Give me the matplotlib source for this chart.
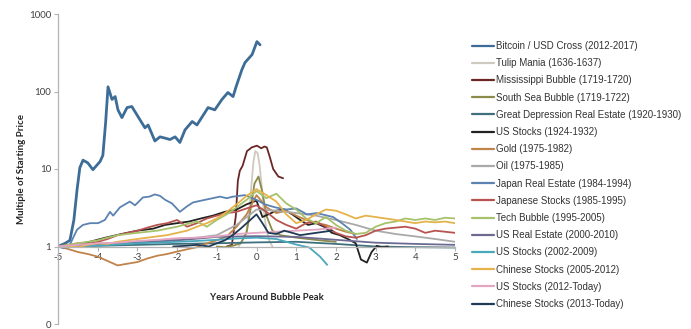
import numpy as np
import matplotlib
matplotlib.use("Agg")
import matplotlib.pyplot as plt

plt.rcParams["font.family"] = ["Lato", "DejaVu Sans"]

# ---- data: multiple of starting price vs. years around the bubble peak ----
btc_x = [-5.0, -4.82, -4.70, -4.60, -4.52, -4.45, -4.37, -4.25, -4.12, -3.94, -3.87, -3.80, -3.74,
         -3.64, -3.56, -3.49, -3.39, -3.26, -3.14, -2.98, -2.81, -2.73, -2.56, -2.43, -2.30, -2.18,
         -2.05, -1.93, -1.80, -1.62, -1.50, -1.37, -1.22, -1.05, -0.87, -0.72, -0.59, -0.52, -0.37,
         -0.29, -0.11, 0.01, 0.09]
btc_v = [1.0, 1.1, 1.2, 2.2, 5.4, 10.4, 13, 12, 9.8, 12.5, 15, 40, 115, 79, 86, 58, 46, 62, 64, 47,
         34, 37, 23, 26, 25, 24, 26, 22, 32, 41, 37, 47, 62, 58, 79, 97, 86, 113, 190, 236, 300, 440, 400]

tulip_x = [-0.45, -0.35, -0.25, -0.18, -0.13, -0.08, -0.03, 0.03, 0.08, 0.13, 0.18, 0.25, 0.32, 0.40]
tulip_v = [1.0, 1.2, 1.6, 3.0, 6.0, 12.0, 17.0, 16.0, 11.0, 6.0, 3.0, 1.6, 1.2, 1.0]

miss_x = [-0.75, -0.62, -0.52, -0.47, -0.42, -0.35, -0.24, -0.12, 0.01, 0.12, 0.20, 0.26, 0.34, 0.42, 0.55, 0.67]
miss_v = [1.0, 1.05, 2.5, 7.0, 9.5, 11.0, 17.0, 19.0, 20.0, 18.5, 19.5, 19.0, 14.0, 10.0, 8.0, 7.6]

ssea_x = [-1.0, -0.8, -0.6, -0.4, -0.25, -0.15, -0.05, 0.05, 0.15, 0.25, 0.4, 0.6, 0.8, 1.0, 1.3, 1.6, 2.0]
ssea_v = [1.0, 0.98, 1.02, 1.1, 1.5, 3.0, 6.5, 8.0, 5.0, 2.5, 1.6, 1.4, 1.35, 1.3, 1.25, 1.2, 1.15]

gdre_x = [-5, -4, -3, -2, -1, 0, 1, 2, 3, 4, 5]
gdre_v = [1.0, 1.02, 1.05, 1.08, 1.1, 1.13, 1.15, 1.08, 1.0, 0.98, 0.97]

us24_x = [-5.0, -4.6, -4.2, -3.8, -3.4, -3.0, -2.6, -2.3, -2.0, -1.7, -1.4, -1.1, -0.8, -0.5, -0.25,
          0.0, 0.15, 0.3, 0.5, 0.7, 0.9, 1.1, 1.3, 1.5, 1.7, 1.9, 2.1, 2.3, 2.5, 2.63, 2.78, 2.9,
          3.03, 3.15, 3.31]
us24_v = [1.0, 1.05, 1.15, 1.3, 1.45, 1.6, 1.7, 1.9, 2.0, 2.1, 2.3, 2.5, 2.8, 3.0, 3.5, 3.9, 2.4,
          2.6, 2.9, 3.0, 2.6, 2.2, 1.9, 2.0, 1.8, 1.5, 1.4, 1.25, 1.1, 0.68, 0.62, 0.85, 1.02, 0.98, 1.0]

gold_x = [-5, -4.75, -4.5, -4.25, -4, -3.75, -3.5, -3.25, -3, -2.75, -2.5, -2.25, -2, -1.75, -1.5,
          -1.25, -1, -0.75, -0.5, -0.25, 0, 0.25, 0.5, 0.75, 1, 1.25, 1.5, 1.75, 2, 2.25, 2.5]
gold_v = [1.0, 0.93, 0.85, 0.8, 0.74, 0.65, 0.57, 0.6, 0.63, 0.7, 0.76, 0.8, 0.86, 0.92, 0.98, 1.1,
          1.2, 1.35, 1.8, 2.6, 4.6, 3.2, 2.7, 2.9, 2.5, 2.2, 2.0, 1.9, 1.7, 1.55, 1.45]

oil_x = [-5, -4.5, -4, -3.5, -3, -2.5, -2, -1.5, -1, -0.5, 0, 0.5, 1, 1.5, 2, 2.5, 3, 3.5, 4, 4.5, 5]
oil_v = [1.0, 1.05, 1.1, 1.12, 1.15, 1.2, 1.25, 1.3, 1.4, 1.9, 3.0, 2.9, 2.7, 2.5, 2.2, 1.9, 1.6,
         1.45, 1.35, 1.25, 1.15]

jre_x = [-5.0, -4.85, -4.70, -4.52, -4.37, -4.19, -3.99, -3.82, -3.69, -3.61, -3.44, -3.19, -3.06,
         -2.86, -2.70, -2.56, -2.43, -2.30, -2.13, -1.93, -1.75, -1.60, -1.40, -1.20, -0.92, -0.75,
         -0.59, -0.29, 0.0, 0.21, 0.47, 0.75, 1.0, 1.27, 1.52, 1.93, 2.15, 2.36, 2.53]
jre_v = [1.0, 0.95, 1.06, 1.65, 1.9, 2.0, 2.0, 2.2, 2.8, 2.5, 3.2, 3.8, 3.4, 4.3, 4.4, 4.7, 4.5, 4.0,
         3.6, 2.8, 3.3, 3.7, 3.9, 4.1, 4.4, 4.2, 4.4, 4.6, 4.0, 3.5, 3.2, 3.0, 3.1, 2.6, 2.7, 2.4,
         2.0, 1.65, 1.25]

quarter_x = [-5, -4.75, -4.5, -4.25, -4, -3.75, -3.5, -3.25, -3, -2.75, -2.5, -2.25, -2, -1.75,
             -1.5, -1.25, -1, -0.75, -0.5, -0.25, 0, 0.25, 0.5, 0.75, 1, 1.25, 1.5, 1.75, 2, 2.25,
             2.5, 2.75, 3, 3.25, 3.5, 3.75, 4, 4.25, 4.5, 4.75, 5]

jstk_v = [1.0, 1.05, 1.1, 1.08, 1.15, 1.25, 1.4, 1.5, 1.6, 1.75, 1.9, 2.0, 2.2, 1.8, 2.0, 2.3, 2.5,
          2.7, 2.8, 3.1, 3.4, 2.8, 2.2, 1.9, 1.7, 2.0, 2.1, 1.8, 1.5, 1.35, 1.3, 1.4, 1.6, 1.7, 1.75,
          1.8, 1.7, 1.5, 1.6, 1.55, 1.5]

tech_v = [1.0, 1.05, 1.1, 1.15, 1.2, 1.3, 1.4, 1.45, 1.5, 1.55, 1.6, 1.7, 1.8, 1.95, 2.1, 1.8, 2.2,
          2.6, 3.2, 4.0, 5.2, 4.2, 4.8, 3.6, 3.0, 2.3, 2.0, 2.4, 1.9, 1.6, 1.45, 1.5, 1.8, 2.0, 2.1,
          2.3, 2.2, 2.3, 2.2, 2.35, 2.3]

usre_x = [-5, -4, -3, -2, -1, 0, 1, 2, 3, 4, 5]
usre_v = [1.0, 1.06, 1.12, 1.2, 1.33, 1.36, 1.33, 1.22, 1.12, 1.08, 1.05]

us02_x = [-5, -4.5, -4, -3.5, -3, -2.5, -2, -1.5, -1, -0.5, 0, 0.5, 1.0, 1.33, 1.6, 1.78]
us02_v = [1.0, 1.0, 1.03, 1.06, 1.1, 1.12, 1.15, 1.18, 1.22, 1.27, 1.3, 1.25, 1.06, 0.97, 0.74, 0.58]

cn05_v = [1.0, 1.02, 0.98, 1.05, 1.1, 1.08, 1.15, 1.2, 1.25, 1.3, 1.35, 1.4, 1.5, 1.6, 1.8, 2.0, 2.3,
          2.8, 3.5, 4.5, 5.5, 4.6, 3.8, 2.6, 2.0, 2.2, 2.6, 3.0, 2.9, 2.6, 2.3, 2.5, 2.4, 2.3, 2.2,
          2.1, 2.0, 2.1, 2.05, 2.1, 2.0]

us12_x = [-5, -4.5, -4, -3.5, -3, -2.5, -2, -1.5, -1, -0.5, 0, 0.5, 1, 1.5, 2]
us12_v = [1.0, 1.05, 1.1, 1.12, 1.18, 1.22, 1.28, 1.3, 1.35, 1.45, 1.5, 1.55, 1.6, 1.65, 1.75]

cn13_x = [-2.1, -1.8, -1.5, -1.2, -1.0, -0.8, -0.6, -0.4, -0.2, 0.0, 0.15, 0.3, 0.5, 0.7, 0.9, 1.1,
          1.3, 1.5, 1.7, 1.9]
cn13_v = [1.0, 1.02, 1.05, 1.0, 1.1, 1.2, 1.4, 1.7, 2.1, 2.6, 2.0, 1.5, 1.45, 1.6, 1.5, 1.4, 1.45,
          1.5, 1.55, 1.6]

series_names = ["Bitcoin / USD Cross (2012-2017)", "Tulip Mania (1636-1637)",
                "Mississippi Bubble (1719-1720)", "South Sea Bubble (1719-1722)",
                "Great Depression Real Estate (1920-1930)", "US Stocks (1924-1932)",
                "Gold (1975-1982)", "Oil (1975-1985)", "Japan Real Estate (1984-1994)",
                "Japanese Stocks (1985-1995)", "Tech Bubble (1995-2005)",
                "US Real Estate (2000-2010)", "US Stocks (2002-2009)",
                "Chinese Stocks (2005-2012)", "US Stocks (2012-Today)",
                "Chinese Stocks (2013-Today)"]
series_data = [(btc_x, btc_v), (tulip_x, tulip_v), (miss_x, miss_v), (ssea_x, ssea_v),
               (gdre_x, gdre_v), (us24_x, us24_v), (gold_x, gold_v), (oil_x, oil_v),
               (jre_x, jre_v), (quarter_x, jstk_v), (quarter_x, tech_v), (usre_x, usre_v),
               (us02_x, us02_v), (quarter_x, cn05_v), (us12_x, us12_v), (cn13_x, cn13_v)]
series_colors = ["#3d6d97", "#cfcac0", "#6b2626", "#8a8a4a", "#3f6f7c", "#222222", "#c0834a",
                 "#a9a9a9", "#5b82b0", "#b85450", "#a6c26a", "#6d6a92", "#4aa8bd", "#e6b24a",
                 "#e3a6c2", "#1f3a55"]

x_ticks = [-5, -4, -3, -2, -1, 0, 1, 2, 3, 4, 5]
x_labels = ["-5", "-4", "-3", "-2", "-1", "0", "1", "2", "3", "4", "5"]
y_ticks = [1000, 100, 10, 1, 0.1]
y_labels = ["1000", "100", "10", "1", "0"]

# ---- figure ----
W, H = 691, 329
fig = plt.figure(figsize=(W / 100, H / 100), dpi=100)
ax = fig.add_axes([58 / W, 1 - 324 / H, (455 - 58) / W, (324 - 14) / H])

for (xs, vs), name, col in zip(series_data, series_names, series_colors):
    lw = 2.0 if name.startswith("Bitcoin") else 1.3
    ax.plot(xs, vs, color=col, lw=lw, label=name, solid_capstyle="round", solid_joinstyle="round")

ax.set_yscale("log")
ax.set_xlim(-5, 5)
ax.set_ylim(0.1, 1000)

for side in ["top", "right"]:
    ax.spines[side].set_visible(False)
ax.spines["bottom"].set_position(("data", 1))
for side in ["bottom", "left"]:
    ax.spines[side].set_color("#b3b3b3")
    ax.spines[side].set_linewidth(0.9)

ax.set_yticks(y_ticks)
ax.set_yticklabels(y_labels)
ax.yaxis.set_minor_locator(matplotlib.ticker.NullLocator())
ax.set_xticks(x_ticks)
ax.set_xticklabels(x_labels)
ax.tick_params(axis="both", which="major", length=3, width=0.8, color="#b3b3b3", pad=2,
               labelsize=7, labelcolor="#404040")
ax.set_facecolor("none")

fig.text(22 / W, 1 - 169 / H, "Multiple of Starting Price", rotation=90, ha="center", va="center",
         fontweight="bold", fontsize=7.0, color="#222222")
fig.text(267 / W, 1 - 298 / H, "Years Around Bubble Peak", ha="center", va="center",
         fontweight="bold", fontsize=6.8, color="#222222")

leg = fig.legend(loc="upper left", bbox_to_anchor=(472 / W, 1 - 41 / H), frameon=False,
                 borderaxespad=0, borderpad=0, handlelength=2.26, handletextpad=0.2,
                 labelspacing=0.74, prop={"family": "Liberation Sans", "size": 7.0})
for t in leg.get_texts():
    t.set_color("#333333")
for ln in leg.get_lines():
    ln.set_linewidth(1.6)

fig.savefig("out.png", dpi=100)
